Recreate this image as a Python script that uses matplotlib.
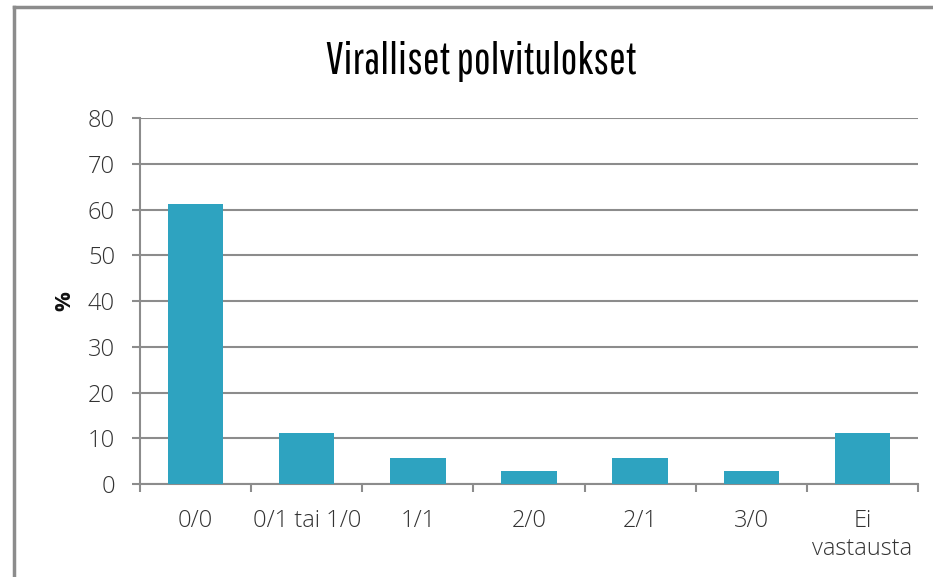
import matplotlib
matplotlib.use("Agg")
import matplotlib.pyplot as plt
from matplotlib.lines import Line2D

categories = ["0/0", "0/1 tai 1/0", "1/1", "2/0", "2/1", "3/0", "Ei\nvastausta"]
values = [61.1, 11.1, 5.6, 2.8, 5.6, 2.8, 11.1]
yticks = [0, 10, 20, 30, 40, 50, 60, 70, 80]

plt.rcParams["font.family"] = ["Open Sans", "DejaVu Sans"]

fig = plt.figure(figsize=(9.33, 5.77), dpi=100)
ax = fig.add_axes([0.150, 0.161, 0.834, 0.6345])

grey = "#8c8c8c"
x = range(len(categories))
ax.bar(x, values, width=0.5, color="#2ea3c0", zorder=3)

ax.set_xlim(-0.5, len(categories) - 0.5)
ax.set_ylim(0, 80)
ax.set_yticks(yticks)
ax.set_yticklabels([str(t) for t in yticks], fontsize=17, color="#333333", fontweight=300)
ax.yaxis.grid(True, color=grey, linewidth=1.5, zorder=0)
ax.set_axisbelow(True)

ax.set_xticks([i - 0.5 for i in range(len(categories) + 1)], minor=False)
ax.set_xticklabels([])
ax.set_xticks(list(x), minor=True)
ax.set_xticklabels(categories, minor=True, fontsize=17, color="#333333", fontweight=300,
                   linespacing=1.2)
ax.tick_params(axis="x", which="major", length=6, width=1.5, color=grey, direction="out")
ax.tick_params(axis="x", which="minor", length=0, pad=18)
ax.tick_params(axis="y", length=6, width=1.5, color=grey, pad=12)

for s in ["top", "right"]:
    ax.spines[s].set_visible(False)
for s in ["left", "bottom"]:
    ax.spines[s].set_color(grey)
    ax.spines[s].set_linewidth(1.5)

ax.set_ylabel("%", fontsize=16, fontweight="bold", labelpad=9, color="#111111")

fig.text(0.5155, 0.893, "Viralliset polvitulokset", ha="center", va="center",
         fontsize=32, color="black", family=["Pathway Gothic One", "DejaVu Sans"])

# frame around the chart area
fig.add_artist(Line2D([14 / 933, 14 / 933], [0, 1 - 7 / 577], color=grey, linewidth=2.5,
                      transform=fig.transFigure))
fig.add_artist(Line2D([14 / 933, 1], [1 - 7 / 577, 1 - 7 / 577], color=grey, linewidth=2.5,
                      transform=fig.transFigure))

plt.savefig("out.png", dpi=100)
print("saved out.png")
